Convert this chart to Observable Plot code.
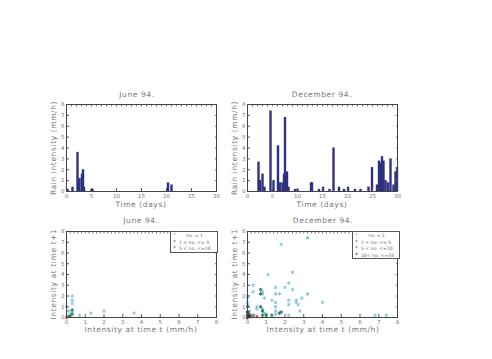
<!DOCTYPE html>
<html><head><meta charset="utf-8">
<script src="https://cdn.jsdelivr.net/npm/d3@7"></script>
<script src="https://cdn.jsdelivr.net/npm/@observablehq/plot@0.6"></script>
<style>
body{margin:0;background:#fff;}
#wrap{position:relative;width:492px;height:359px;overflow:hidden;font-family:"DejaVu Sans",sans-serif;color:#777;}
.t{position:absolute;font-size:7.5px;letter-spacing:0.6px;color:#777;white-space:nowrap;transform:translateX(-50%);}
.p{position:absolute;}
.leg{position:absolute;border:1px solid #555;background:#fff;font-size:4.6px;line-height:5.6px;padding:0 2px;color:#666;white-space:pre;}
</style></head>
<body><div id="wrap"></div>
<script>
// ---- data ----
const juneDays = [0.2, 1.2, 2.2, 2.4, 2.6, 3.1, 3.3, 3.5, 5.0, 5.2, 20.3, 21.0];
const juneRain = [0.2, 0.4, 3.6, 1.0, 1.2, 1.6, 2.0, 0.4, 0.2, 0.2, 0.8, 0.6];
const decDays = [2.2, 2.5, 3.0, 3.4, 4.6, 5.2, 6.1, 6.5, 7.0, 7.3, 7.5, 7.9, 8.2, 9.5, 10.0, 12.7, 12.9, 14.3, 15.1, 16.4, 17.2, 18.3, 19.3, 20.1, 21.5, 22.6, 24.2, 24.9, 25.9, 26.3, 26.6, 26.9, 27.2, 27.6, 28.1, 28.6, 29.2, 29.6, 29.9];
const decRain = [2.7, 1.0, 1.6, 0.4, 7.4, 1.0, 4.2, 0.8, 0.8, 1.6, 6.8, 1.8, 0.4, 0.2, 0.2, 0.8, 0.8, 0.2, 0.4, 0.2, 4.0, 0.4, 0.2, 0.4, 0.2, 0.2, 0.4, 2.2, 0.6, 2.8, 2.6, 3.2, 2.8, 1.0, 0.8, 3.0, 0.6, 1.8, 2.2];
const classes = ["no. = 1", "1 < no. <= 5", "5 < no. <=10", "10< no. <=35"];
const classColors = ["#86c4e4", "#2f7a5c", "#d8424a", "#222233"];
const juneScatterX = [0.3, 0.3, 0.3, 0.1, 0.0, 0.7, 1.3, 2.0, 3.6, 0.2, 0.3, 0.3, 0.3, 0.1, 0.2, 0.0];
const juneScatterY = [2.0, 1.6, 1.3, 0.6, 1.0, 0.2, 0.4, 0.6, 0.4, 0.3, 0.5, 0.7, 0.3, 0.1, 0.1, 0.0];
const juneScatterC = [0, 0, 0, 0, 0, 0, 0, 0, 0, 0, 0, 1, 1, 1, 1, 2];
const decScatterX = [1.8, 3.2, 1.1, 2.4, 2.2, 0.3, 0.3, 0.8, 1.5, 1.5, 1.7, 2.0, 2.4, 3.2, 2.9, 2.6, 2.6, 2.7, 2.2, 2.2, 1.3, 1.5, 1.5, 0.9, 0.8, 0.0, 0.0, 0.0, 0.0, 0.5, 0.5, 0.8, 1.5, 0.1, 2.8, 4.0, 6.8, 7.4, 1.0, 1.5, 2.2, 0.9, 0.0,
  0.7, 0.7, 0.0, 0.7, 0.8, 1.7, 0.3, 0.8, 1.0, 1.3, 0.1, 1.8,
  0.2, 0.5,
  0.0, 0.0, 0.0, 0.1];
const decScatterY = [6.8, 7.4, 4.0, 4.2, 3.2, 3.0, 2.4, 2.4, 2.8, 2.2, 2.2, 2.8, 2.6, 2.2, 1.8, 1.6, 1.4, 1.2, 1.2, 1.6, 1.6, 1.4, 1.0, 1.8, 2.2, 2.0, 1.8, 1.4, 1.2, 1.0, 0.8, 0.8, 0.6, 0.6, 0.6, 1.4, 0.2, 0.2, 0.3, 0.3, 0.2, 0.4, 0.4,
  2.6, 2.2, 1.0, 1.0, 0.6, 0.4, 0.2, 0.2, 0.2, 0.2, 0.3, 0.5,
  0.1, 0.1,
  0.5, 0.2, 0.0, 0.1];
const decScatterC = [0,0,0,0,0,0,0,0,0,0,0,0,0,0,0,0,0,0,0,0,0,0,0,0,0,0,0,0,0,0,0,0,0,0,0,0,0,0,0,0,0,0,0,
  1,1,1,1,1,1,1,1,1,1,1,1,
  2,2,
  3,3,3,3];
const dayTicks = [0, 5, 10, 15, 20, 25, 30];
const intTicks = [0, 1, 2, 3, 4, 5, 6, 7, 8];

const wrap = document.getElementById("wrap");
function place(el, left, top) { el.classList.add("p"); el.style.left = left + "px"; el.style.top = top + "px"; wrap.appendChild(el); }
function text(str, x, y, rot) {
  const d = document.createElement("div"); d.className = "t"; d.textContent = str;
  d.style.left = x + "px"; d.style.top = y + "px";
  if (rot) { d.style.transform = "translate(-50%,-50%) rotate(-90deg)"; }
  wrap.appendChild(d);
}
const axisCommon = {fontSize: 5.5, color: "#666"};
function frameAxes(xTicks, yTicks) {
  return [
    Plot.axisX({ticks: xTicks, tickSize: -3, tickPadding: 6, tickFormat: d => d, stroke: "#555", fill: "#777", label: null}),
    Plot.axisX({anchor: "top", ticks: d3.range(0, xTicks[xTicks.length - 1] + 0.001, (xTicks[1] - xTicks[0]) / 5), tickSize: -1.5, text: null, stroke: "#777", label: null}),
    Plot.axisY({ticks: yTicks, tickSize: -3, tickPadding: 5, tickFormat: d => d, stroke: "#555", fill: "#777", label: null}),
    Plot.axisY({anchor: "right", ticks: yTicks, tickSize: -2, text: null, stroke: "#777", label: null}),
    Plot.frame({stroke: "#444"})
  ];
}
function barPlot(days, rain) {
  return Plot.plot({
    width: 185, height: 108, marginLeft: 30, marginRight: 5, marginTop: 4, marginBottom: 17,
    style: {fontSize: "5.5px", fontFamily: "DejaVu Sans, sans-serif", background: "transparent"},
    x: {domain: [0, 30]}, y: {domain: [0, 8]},
    marks: [
      Plot.ruleX(days.map((d, i) => ({d, v: rain[i]})), {x: "d", y1: 0, y2: "v", stroke: "#2e3180", strokeWidth: 2.4}),
      Plot.ruleY([0], {stroke: "#2e3180", strokeWidth: 1.2}),
      ...frameAxes(dayTicks, intTicks)
    ]
  });
}
function scatterPlot(xs, ys, cs) {
  const pts = xs.map((x, i) => ({x, y: ys[i], c: classes[cs[i]]}));
  return Plot.plot({
    width: 185, height: 103, marginLeft: 30, marginRight: 5, marginTop: 4, marginBottom: 13,
    style: {fontSize: "5.5px", fontFamily: "DejaVu Sans, sans-serif", background: "transparent"},
    x: {domain: [0, 8]}, y: {domain: [0, 8]},
    color: {domain: classes, range: classColors},
    marks: [
      Plot.dot(pts, {x: "x", y: "y", stroke: "c", symbol: "asterisk", r: 1.7, strokeWidth: 1}),
      ...frameAxes(intTicks, intTicks)
    ]
  });
}
// top row
place(barPlot(juneDays, juneRain), 36, 100);
place(barPlot(decDays, decRain), 217, 100);
// bottom row
place(scatterPlot(juneScatterX, juneScatterY, juneScatterC), 36, 227);
place(scatterPlot(decScatterX, decScatterY, decScatterC), 217, 227);

// titles and labels
text("June 94.", 137, 90);
text("December 94.", 322, 90);
text("June 94.", 141, 216);
text("December 94.", 323, 216);
text("Time (days)", 141, 200);
text("Time (days)", 322, 200);
text("Intensity at time t   (mm/h)", 141, 325);
text("Intensity at time t   (mm/h)", 323, 325);
text("Rain intensity (mm/h)", 53, 148, true);
text("Rain intensity (mm/h)", 234, 148, true);
text("Intensity at time t+1", 53, 274, true);
text("Intensity at time t+1", 234, 274, true);

function legend(n, left, top, width) {
  const d = document.createElement("div"); d.className = "leg";
  d.style.left = left + "px"; d.style.top = top + "px"; d.style.width = width + "px";
  let html = "";
  for (let i = 0; i < n; i++) {
    const lab = i === 0 ? "     " + classes[i] : classes[i];
    html += `<span style="color:${classColors[i]};font-size:6px">*</span>  ${lab}\n`;
  }
  d.innerHTML = html.trimEnd();
  wrap.appendChild(d);
}
legend(3, 170, 231, 42);
legend(4, 352, 231, 42);
</script></body></html>
